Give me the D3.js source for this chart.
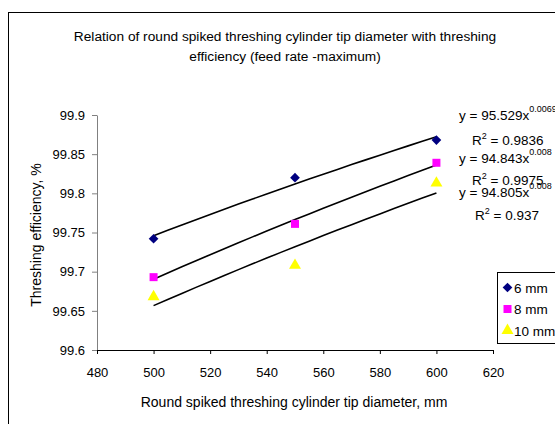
<!DOCTYPE html>
<html>
<head>
<meta charset="utf-8">
<script src="https://cdn.jsdelivr.net/npm/d3@7"></script>
<style>
    body { margin: 0; background: #fff; }
    svg text { font-family: "Liberation Sans", Arial, sans-serif; fill: #000; }
</style>
</head>
<body>
<div id="visualization"></div>
<script>
// tip diameters, mm
const diameters = [500, 550, 600];
// threshing efficiency per spike length, %
const series6mm = [99.742, 99.820, 99.868];
const series8mm = [99.693, 99.761, 99.839];
const series10mm = [99.668, 99.708, 99.813];
const seriesNames = ["6 mm", "8 mm", "10 mm"];
// trendline labels as printed on the chart
const equationLabels = [
    { coef: "y = 95.529x", exp: "0.0069", r2: "0.9836" },
    { coef: "y = 94.843x", exp: "0.008", r2: "0.9975" },
    { coef: "y = 94.805x", exp: "0.008", r2: "0.937" }
];
const xTicks = [480, 500, 520, 540, 560, 580, 600, 620];
const yTicks = [99.6, 99.65, 99.7, 99.75, 99.8, 99.85, 99.9];

const width = 555, height = 424;

const svg = d3.select("#visualization")
    .append("svg")
        .attr("width", width)
        .attr("height", height);

// outer chart border (runs off the right and bottom edge)
svg.append("rect")
    .attr("x", 8.5)
    .attr("y", 12.5)
    .attr("width", 580)
    .attr("height", 440)
    .attr("fill", "#fff")
    .attr("stroke", "#000")
    .attr("stroke-width", 1);

// title
const title = svg.append("text")
    .attr("text-anchor", "middle")
    .attr("font-size", 13.7);
title.append("tspan").attr("x", 285).attr("y", 41)
    .text("Relation of round spiked threshing cylinder tip diameter with threshing");
title.append("tspan").attr("x", 285).attr("y", 61)
    .text("efficiency (feed rate -maximum)");

//scales
const x = d3.scaleLinear().domain([480, 620]).range([97, 493]);
const y = d3.scaleLinear().domain([99.6, 99.9]).range([350, 115]);

// y axis
const yAxis = svg.append("g")
    .attr("transform", "translate(97,0)")
    .call(d3.axisLeft(y).tickValues(yTicks).tickSize(5).tickSizeOuter(0).tickPadding(7)
        .tickFormat(d => d3.format("")(+d.toFixed(2))));
yAxis.select(".domain").attr("stroke", "#808080");
yAxis.selectAll(".tick line").attr("stroke", "#808080");
yAxis.selectAll("text").attr("font-size", 13).attr("font-family", "Liberation Sans, Arial, sans-serif");

// x axis
const xAxis = svg.append("g")
    .attr("transform", "translate(0,350)")
    .call(d3.axisBottom(x).tickValues(xTicks).tickSize(4).tickSizeOuter(0).tickPadding(14));
xAxis.select(".domain").attr("stroke", "#000");
xAxis.selectAll(".tick line").attr("stroke", "#000");
xAxis.selectAll("text").attr("font-size", 13).attr("font-family", "Liberation Sans, Arial, sans-serif");

// axis titles
svg.append("text")
    .attr("x", 294).attr("y", 407)
    .attr("text-anchor", "middle")
    .attr("font-size", 14)
    .text("Round spiked threshing cylinder tip diameter, mm");

svg.append("text")
    .attr("transform", "translate(41,235) rotate(-90)")
    .attr("text-anchor", "middle")
    .attr("font-size", 14)
    .text("Threshing efficiency, %");

const allSeries = [series6mm, series8mm, series10mm];

// power trendline y = a*x^b fitted in log-log space
function powerFit(xs, ys) {
    const lx = xs.map(Math.log), ly = ys.map(Math.log);
    const mx = d3.mean(lx), my = d3.mean(ly);
    const b = d3.sum(lx, (v, i) => (v - mx) * (ly[i] - my)) / d3.sum(lx, v => (v - mx) ** 2);
    const a = Math.exp(my - b * mx);
    return v => a * Math.pow(v, b);
}

const line = d3.line().x(d => x(d[0])).y(d => y(d[1]));
allSeries.forEach(values => {
    const f = powerFit(diameters, values);
    const pts = d3.range(0, 21).map(i => {
        const xv = 500 + i * 5;
        return [xv, f(xv)];
    });
    svg.append("path")
        .attr("d", line(pts))
        .attr("fill", "none")
        .attr("stroke", "#000")
        .attr("stroke-width", 1.6);
});

// markers
const markerStyles = [
    { symbol: d3.symbolDiamond2, size: 60, fill: "#000080" },
    { symbol: d3.symbolSquare, size: 64, fill: "#ff00ff" },
    { symbol: d3.symbolTriangle, size: 62, fill: "#ffff00" }
];

allSeries.forEach((values, s) => {
    const st = markerStyles[s];
    svg.append("g").selectAll("path")
        .data(values)
        .join("path")
            .attr("transform", (d, i) => `translate(${x(diameters[i])},${y(d)})`)
            .attr("d", d3.symbol(st.symbol, st.size))
            .attr("fill", st.fill);
});

// equation labels
const eqY = [[120, 145], [163, 185], [197, 220]];
const r2X = [472, 472, 475];
equationLabels.forEach((lab, i) => {
    const t = svg.append("text").attr("font-size", 13.5);
    t.append("tspan").attr("x", 459).attr("y", eqY[i][0]).text(lab.coef);
    t.append("tspan").attr("dy", -8).attr("font-size", 9).text(lab.exp);

    const r = svg.append("text").attr("font-size", 13.5).attr("x", r2X[i]).attr("y", eqY[i][1]);
    r.append("tspan").text("R");
    r.append("tspan").attr("dy", -6).attr("font-size", 9).text("2");
    r.append("tspan").attr("dy", 6).text(" = " + lab.r2);
});

// legend
const legend = svg.append("g").attr("transform", "translate(497.5,272.5)");
legend.append("rect")
    .attr("width", 80)
    .attr("height", 71)
    .attr("fill", "#fff")
    .attr("stroke", "#000")
    .attr("stroke-width", 1);

seriesNames.forEach((name, i) => {
    const st = markerStyles[i];
    const ry = 15 + i * 21.5;
    legend.append("path")
        .attr("transform", `translate(10,${ry})`)
        .attr("d", d3.symbol(st.symbol, st.size))
        .attr("fill", st.fill);
    legend.append("text")
        .attr("x", 16.5)
        .attr("y", ry + 5)
        .attr("font-size", 13.5)
        .text(name);
});
</script>
</body>
</html>
